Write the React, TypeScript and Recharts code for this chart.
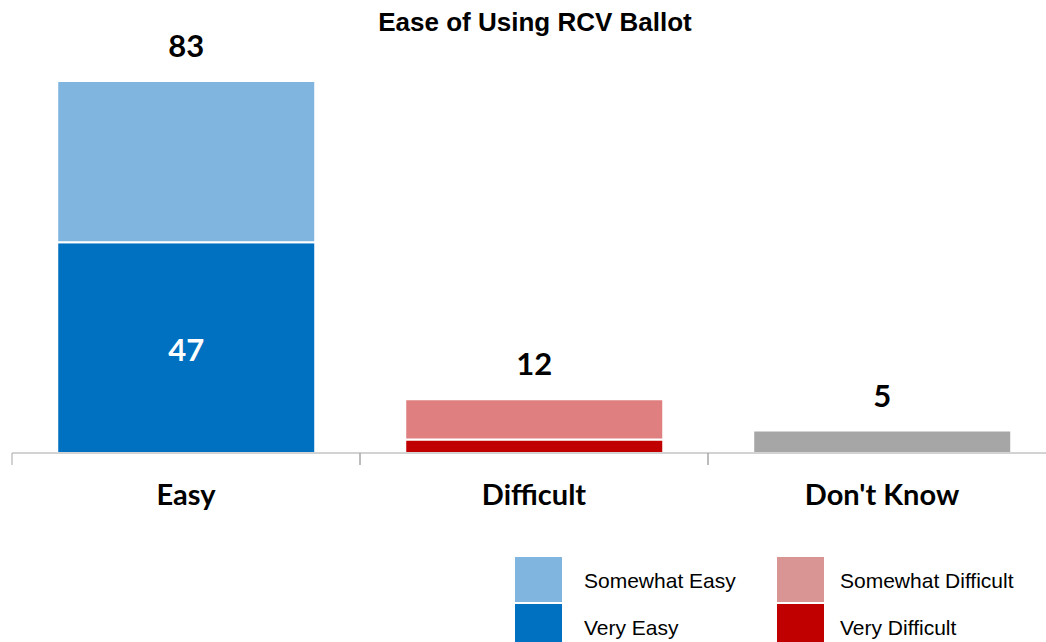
import { BarChart, Bar, XAxis, YAxis, LabelList } from 'recharts';

const categories = ['Easy', 'Difficult', "Don't Know"];
const veryEasy = [47, null, null];
const somewhatEasy = [36, null, null];
const veryDifficult = [null, 3, null];
const somewhatDifficult = [null, 9, null];
const dontKnow = [null, null, 5];
const totals = [83, 12, 5];

const data = categories.map((name, i) => ({
  name,
  veryEasy: veryEasy[i],
  somewhatEasy: somewhatEasy[i],
  veryDifficult: veryDifficult[i],
  somewhatDifficult: somewhatDifficult[i],
  dontKnow: dontKnow[i],
  total: totals[i],
}));

const W = 1060;
const H = 642;
const margin = { top: 81, right: 4, bottom: 129, left: 12 };
const catW = (W - margin.left - margin.right) / categories.length;
const labelFont = 'Lato, "Open Sans", sans-serif';
const legendFont = '"Liberation Sans", Arial, sans-serif';

const legendItems = [
  { label: 'Somewhat Easy', color: '#7fb5de', gap: 22 },
  { label: 'Somewhat Difficult', color: '#d99594', gap: 16 },
  { label: 'Very  Easy', color: '#0070c0', gap: 22 },
  { label: 'Very Difficult', color: '#c00000', gap: 16 },
];

// total shown above whichever segment sits on top of the stack
const totalLabel = (props: any) => {
  const { x, y, width, height, value } = props;
  if (value == null || !(Math.abs(height) > 0)) return null;
  return (
    <text x={x + width / 2} y={y - 24} textAnchor="middle" fontFamily={labelFont} fontWeight={700} fontSize={31} fill="#000">
      {value}
    </text>
  );
};

const innerLabel = (props: any) => {
  const { x, y, width, height, value } = props;
  if (value == null || !(Math.abs(height) > 0)) return null;
  return (
    <text x={x + width / 2} y={y + height / 2 + 1} textAnchor="middle" dominantBaseline="central" fontFamily={labelFont} fontWeight={700} fontSize={31} fill="#fff">
      {value}
    </text>
  );
};

const CatTick = (props: any) => {
  const { x, y, payload } = props;
  return (
    <g>
      <line x1={x - catW / 2} y1={y} x2={x - catW / 2} y2={y + 12} stroke="#a6a6a6" strokeWidth={1} />
      <line x1={x + catW / 2} y1={y} x2={x + catW / 2} y2={y + 12} stroke="#a6a6a6" strokeWidth={1} />
      <text x={x} y={y + 52} textAnchor="middle" fontFamily={labelFont} fontWeight={700} fontSize={29} fill="#000">
        {payload.value}
      </text>
    </g>
  );
};

export default function App() {
  return (
    <div style={{ position: 'absolute', left: 0, top: 0, width: 1046, height: 642, overflow: 'hidden', background: '#fff' }}>
      <div style={{ position: 'absolute', left: 0, top: 7, width: 1046, textAlign: 'center', paddingLeft: 24, boxSizing: 'border-box', fontFamily: legendFont, fontWeight: 700, fontSize: 26, color: '#000' }}>
        Ease of Using RCV Ballot
      </div>
      <BarChart width={W} height={H} data={data} margin={margin} barCategoryGap="13%">
        <XAxis dataKey="name" axisLine={{ stroke: '#a6a6a6' }} tickLine={false} tickSize={0} tickMargin={0} height={60} tick={<CatTick />} interval={0} />
        <YAxis hide domain={[0, 83]} />
        <Bar dataKey="veryEasy" stackId="a" fill="#0070c0" stroke="#fff" strokeWidth={2} isAnimationActive={false}>
          <LabelList dataKey="veryEasy" content={innerLabel} />
        </Bar>
        <Bar dataKey="somewhatEasy" stackId="a" fill="#7fb5de" stroke="#fff" strokeWidth={2} isAnimationActive={false}>
          <LabelList dataKey="total" content={totalLabel} />
        </Bar>
        <Bar dataKey="veryDifficult" stackId="a" fill="#c00000" stroke="#fff" strokeWidth={2} isAnimationActive={false} />
        <Bar dataKey="somewhatDifficult" stackId="a" fill="#df7f7f" stroke="#fff" strokeWidth={2} isAnimationActive={false}>
          <LabelList dataKey="total" content={totalLabel} />
        </Bar>
        <Bar dataKey="dontKnow" stackId="a" fill="#a6a6a6" stroke="#fff" strokeWidth={2} isAnimationActive={false}>
          <LabelList dataKey="total" content={totalLabel} />
        </Bar>
      </BarChart>
      <div style={{ position: 'absolute', left: 515, top: 557, display: 'grid', gridTemplateColumns: '262px 262px', rowGap: 0 }}>
        {legendItems.map((it) => (
          <div key={it.label} style={{ display: 'flex', alignItems: 'center', height: 47 }}>
            <div style={{ width: 47, height: 45, marginBottom: 2, background: it.color }} />
            <span style={{ marginLeft: it.gap, fontFamily: legendFont, fontSize: 21, color: '#000', position: 'relative', top: 0 }}>{it.label}</span>
          </div>
        ))}
      </div>
    </div>
  );
}
